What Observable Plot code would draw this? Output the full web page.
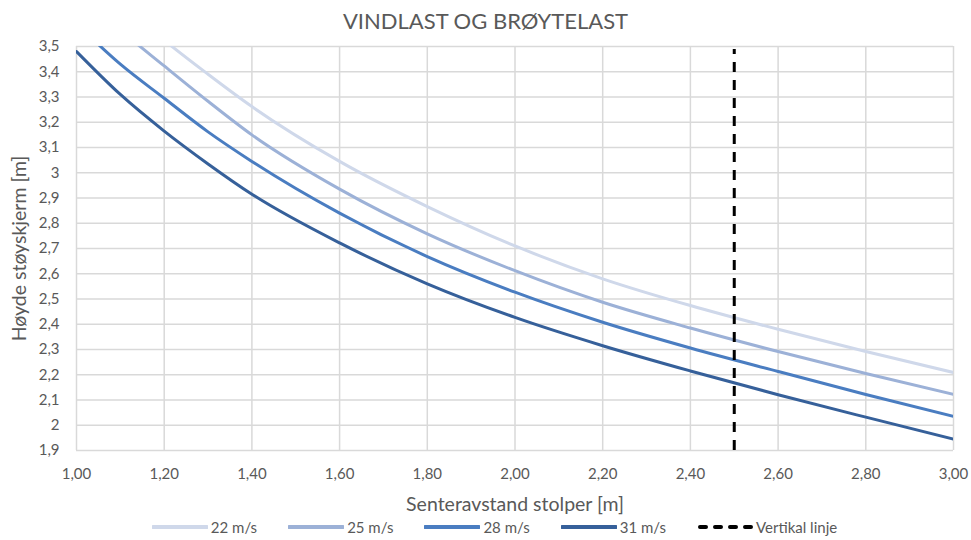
<!DOCTYPE html>
<html>
<head>
<meta charset="utf-8">
<script src="https://cdn.jsdelivr.net/npm/d3@7"></script>
<script src="https://cdn.jsdelivr.net/npm/@observablehq/plot@0.6"></script>
<style>
  html, body { margin: 0; padding: 0; background: #ffffff; }
  #wrap { position: relative; width: 971px; height: 540px; font-family: Lato, "Open Sans", sans-serif; color: #595959; }
  #title { position: absolute; top: 7px; left: 0; width: 971px; text-align: center; font-size: 22px; line-height: 28px; }
  #chart { position: absolute; top: 0; left: 0; }
  #legend { position: absolute; top: 517px; left: 0; width: 989px; height: 20px; display: flex; justify-content: center; align-items: center; font-size: 15px; line-height: 18px; }
  .item { display: flex; align-items: center; margin-right: 31px; }
  .item:last-child { margin-right: 0; }
  .item svg { margin-right: 3px; }
</style>
</head>
<body>
<div id="wrap">
  <div id="chart"></div>
  <div id="title">VINDLAST OG BRØYTELAST</div>
  <div id="legend"></div>
</div>
<script>
// Senteravstand stolper [m]
const xs = [1.00, 1.10, 1.20, 1.30, 1.40, 1.60, 1.80, 2.00, 2.20, 2.40, 2.60, 2.80, 3.00];
// Høyde støyskjerm [m] per vindhastighet (values above 3,5 are clipped by the axis)
const h22 = [3.84, 3.675, 3.525, 3.390, 3.262, 3.045, 2.866, 2.710, 2.580, 2.474, 2.380, 2.292, 2.209];
const h25 = [3.72, 3.565, 3.423, 3.283, 3.150, 2.935, 2.758, 2.612, 2.487, 2.385, 2.292, 2.205, 2.122];
const h28 = [3.59, 3.430, 3.295, 3.162, 3.045, 2.840, 2.668, 2.527, 2.408, 2.306, 2.213, 2.122, 2.035];
const h31 = [3.48, 3.310, 3.165, 3.035, 2.915, 2.722, 2.560, 2.427, 2.315, 2.215, 2.121, 2.032, 1.945];
const seriesNames = ["22 m/s", "25 m/s", "28 m/s", "31 m/s"];
const seriesColors = ["#cfd8ea", "#9cb1d7", "#4a7dc1", "#36609a"];
const verticalX = [2.5];
const verticalName = "Vertikal linje";
const xTicks = [1.0, 1.2, 1.4, 1.6, 1.8, 2.0, 2.2, 2.4, 2.6, 2.8, 3.0];
const yTicks = [1.9, 2.0, 2.1, 2.2, 2.3, 2.4, 2.5, 2.6, 2.7, 2.8, 2.9, 3.0, 3.1, 3.2, 3.3, 3.4, 3.5];

const allSeries = [h22, h25, h28, h31];
const rows = [];
allSeries.forEach((vals, i) => vals.forEach((h, j) => rows.push({x: xs[j], h, s: seriesNames[i]})));

const fmtX = d => d.toFixed(2).replace(".", ",");
const fmtY = d => String(+d.toFixed(1)).replace(".", ",");

const plot = Plot.plot({
  width: 971,
  height: 540,
  marginTop: 46,
  marginBottom: 90,
  marginLeft: 76,
  marginRight: 18,
  style: {fontFamily: "Lato, 'Open Sans', sans-serif", fontSize: "15px", color: "#595959", background: "transparent"},
  x: {domain: [1, 3]},
  y: {domain: [1.9, 3.5]},
  color: {domain: seriesNames, range: seriesColors},
  marks: [
    Plot.gridX(xTicks, {stroke: "#d9d9d9", strokeOpacity: 1, strokeWidth: 1.5}),
    Plot.gridY(yTicks, {stroke: "#d9d9d9", strokeOpacity: 1, strokeWidth: 1.5}),
    Plot.axisX(xTicks, {tickSize: 0, tickPadding: 18, tickFormat: fmtX, label: "Senteravstand stolper [m]", labelAnchor: "center", labelArrow: "none", labelOffset: 60, fontSize: 15}),
    Plot.axisY(yTicks, {tickSize: 0, tickPadding: 17, tickFormat: fmtY, label: "Høyde støyskjerm [m]", labelAnchor: "center", labelArrow: "none", labelOffset: 64, fontSize: 15}),
    Plot.line(rows, {x: "x", y: "h", z: "s", stroke: "s", strokeWidth: 3, curve: "monotone-x", clip: true}),
    Plot.ruleX(verticalX, {y1: 1.9, y2: 3.5, stroke: "#000000", strokeWidth: 3, strokeDasharray: "10,8", insetBottom: -3})
  ]
});
// Axis titles are larger than tick labels in the reference
plot.querySelectorAll("[aria-label='x-axis label'] text, [aria-label='y-axis label'] text").forEach(t => t.setAttribute("font-size", "19.5"));
document.getElementById("chart").appendChild(plot);

const legend = document.getElementById("legend");
const items = seriesNames.map((n, i) => ({name: n, color: seriesColors[i], dash: null}))
  .concat([{name: verticalName, color: "#000000", dash: "6,9"}]);
for (const it of items) {
  const div = document.createElement("div");
  div.className = "item";
  const ns = "http://www.w3.org/2000/svg";
  const sv = document.createElementNS(ns, "svg");
  sv.setAttribute("width", 56); sv.setAttribute("height", 10);
  const ln = document.createElementNS(ns, "line");
  ln.setAttribute("x1", it.dash ? 3 : 1); ln.setAttribute("x2", it.dash ? 54 : 55);
  ln.setAttribute("y1", 5); ln.setAttribute("y2", 5);
  ln.setAttribute("stroke", it.color); ln.setAttribute("stroke-width", 4);
  ln.setAttribute("stroke-linecap", "round");
  if (it.dash) ln.setAttribute("stroke-dasharray", it.dash);
  sv.appendChild(ln);
  const sp = document.createElement("span");
  sp.textContent = it.name;
  div.appendChild(sv); div.appendChild(sp);
  legend.appendChild(div);
}
</script>
</body>
</html>
